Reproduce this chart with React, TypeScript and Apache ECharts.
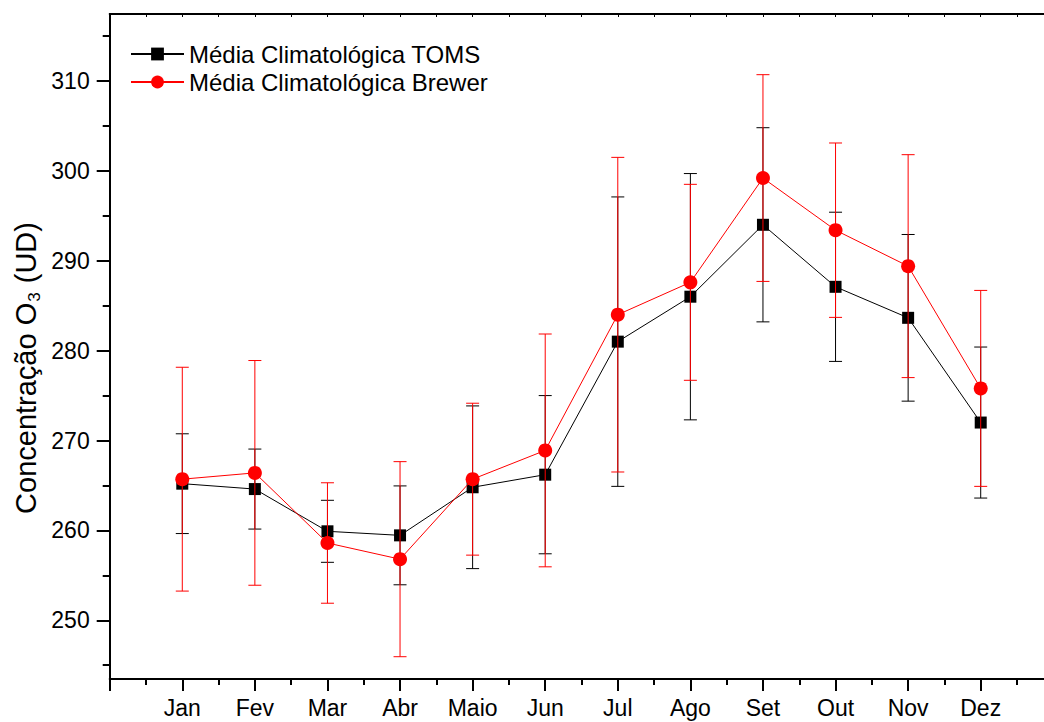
import React, { useEffect, useRef } from 'react';
import * as echarts from 'echarts';

const months = ['Jan', 'Fev', 'Mar', 'Abr', 'Maio', 'Jun', 'Jul', 'Ago', 'Set', 'Out', 'Nov', 'Dez'];
const tomsMean = [265.2, 264.6, 259.9, 259.45, 264.8, 266.2, 281.0, 286.0, 294.0, 287.1, 283.65, 272.0];
const tomsErr = [5.55, 4.45, 3.45, 5.5, 9.05, 8.8, 16.1, 13.7, 10.8, 8.3, 9.27, 8.4];
const brewerMean = [265.7, 266.4, 258.6, 256.8, 265.7, 268.9, 284.0, 287.6, 299.2, 293.4, 289.4, 275.8];
const brewerErr = [12.45, 12.5, 6.7, 10.85, 8.45, 12.95, 17.5, 10.9, 11.5, 9.7, 12.4, 10.9];
const yTickValues = [250, 260, 270, 280, 290, 300, 310];
const yMinorTickValues = [245, 255, 265, 275, 285, 295, 305, 315];

const FONT = 'Liberation Sans, Arial, Helvetica, sans-serif';

function errorSeries(name: string, mean: number[], err: number[], color: string, z: number) {
  return {
    type: 'custom',
    name: name,
    z: z,
    silent: true,
    data: mean.map((m, i) => [i + 1, m - err[i], m + err[i]]),
    renderItem: (params: any, api: any) => {
      const x = api.value(0);
      const lo = api.coord([x, api.value(1)]);
      const hi = api.coord([x, api.value(2)]);
      const hw = 6.5;
      const style = { stroke: color, lineWidth: 1 };
      return {
        type: 'group',
        children: [
          { type: 'line', shape: { x1: lo[0], y1: lo[1], x2: hi[0], y2: hi[1] }, style },
          { type: 'line', shape: { x1: lo[0] - hw, y1: lo[1], x2: lo[0] + hw, y2: lo[1] }, style },
          { type: 'line', shape: { x1: hi[0] - hw, y1: hi[1], x2: hi[0] + hw, y2: hi[1] }, style },
        ],
      };
    },
  };
}

export default function App() {
  const ref = useRef<HTMLDivElement>(null);
  useEffect(() => {
    const chart = echarts.init(ref.current!, null, { renderer: 'svg' });
    const yMin = 243.47;
    const yMax = 317.45;
    chart.setOption({
      animation: false,
      backgroundColor: '#ffffff',
      textStyle: { fontFamily: FONT, color: '#000' },
      grid: { left: 109.7, width: 943.6, top: 14, bottom: 43, containLabel: false, outerBoundsMode: 'none' },
      legend: {
        data: ['Média Climatológica TOMS', 'Média Climatológica Brewer'],
        orient: 'vertical',
        left: 130,
        top: 42,
        padding: 0,
        itemGap: 4,
        itemWidth: 53,
        itemHeight: 16,
        textStyle: { fontFamily: FONT, fontSize: 24, color: '#000' },
      },
      xAxis: [
        {
          type: 'value',
          position: 'bottom',
          min: 0,
          max: 13,
          interval: 1,
          axisLine: { show: true, onZero: false, lineStyle: { color: '#000', width: 2 } },
          axisTick: { show: true, inside: false, length: 12, lineStyle: { color: '#000', width: 2 } },
          minorTick: { show: true, splitNumber: 2, length: 6, lineStyle: { color: '#000', width: 2 } },
          splitLine: { show: false },
          axisLabel: {
            margin: 17,
            fontFamily: FONT,
            fontSize: 23,
            color: '#000',
            formatter: (v: number) => (v >= 1 && v <= months.length ? months[v - 1] : ''),
          },
        },
        {
          type: 'value',
          position: 'top',
          min: 0,
          max: 13,
          interval: 0.5,
          axisLine: { show: true, onZero: false, lineStyle: { color: '#000', width: 2 } },
          axisTick: { show: true, inside: true, length: 3, lineStyle: { color: '#000', width: 1 } },
          splitLine: { show: false },
          axisLabel: { show: false },
        },
      ],
      yAxis: [
        {
          type: 'value',
          position: 'left',
          min: yMin,
          max: yMax,
          axisLine: { show: true, onZero: false, lineStyle: { color: '#000', width: 2 } },
          axisTick: { show: true, inside: false, length: 13, customValues: yTickValues, lineStyle: { color: '#000', width: 2 } },
          splitLine: { show: false },
          axisLabel: { margin: 20, fontFamily: FONT, fontSize: 23, color: '#000', customValues: yTickValues },
        },
        {
          type: 'value',
          position: 'left',
          min: yMin,
          max: yMax,
          axisLine: { show: false },
          axisTick: { show: true, inside: false, length: 7, customValues: yMinorTickValues, lineStyle: { color: '#000', width: 2 } },
          splitLine: { show: false },
          axisLabel: { show: false },
        },
      ],
      graphic: [
        {
          type: 'text',
          x: 26,
          y: 368,
          rotation: Math.PI / 2,
          style: {
            text: '{m|Concentração O}{s|3}{m| (UD)}',
            align: 'center',
            verticalAlign: 'middle',
            fill: '#000',
            rich: {
              m: { fontFamily: FONT, fontSize: 29, color: '#000', lineHeight: 33, verticalAlign: 'middle' },
              s: { fontFamily: FONT, fontSize: 17, color: '#000', lineHeight: 33, verticalAlign: 'bottom', padding: [0, 1, 0, 1] },
            },
          },
        },
      ],
      series: [
        errorSeries('errTOMS', tomsMean, tomsErr, '#000000', 1),
        {
          type: 'line',
          name: 'Média Climatológica TOMS',
          z: 2,
          data: tomsMean.map((v, i) => [i + 1, v]),
          symbol: 'rect',
          symbolSize: 12,
          lineStyle: { color: '#000', width: 1 },
          itemStyle: { color: '#000' },
          emphasis: { disabled: true },
        },
        errorSeries('errBrewer', brewerMean, brewerErr, '#ff0000', 3),
        {
          type: 'line',
          name: 'Média Climatológica Brewer',
          z: 4,
          data: brewerMean.map((v, i) => [i + 1, v]),
          symbol: 'circle',
          symbolSize: 14,
          lineStyle: { color: '#ff0000', width: 1 },
          itemStyle: { color: '#ff0000' },
          emphasis: { disabled: true },
        },
      ],
    });
    return () => chart.dispose();
  }, []);
  return (
    <div
      ref={ref}
      style={{ position: 'fixed', left: 0, top: 0, width: 1044, height: 722, background: '#fff' }}
    />
  );
}
